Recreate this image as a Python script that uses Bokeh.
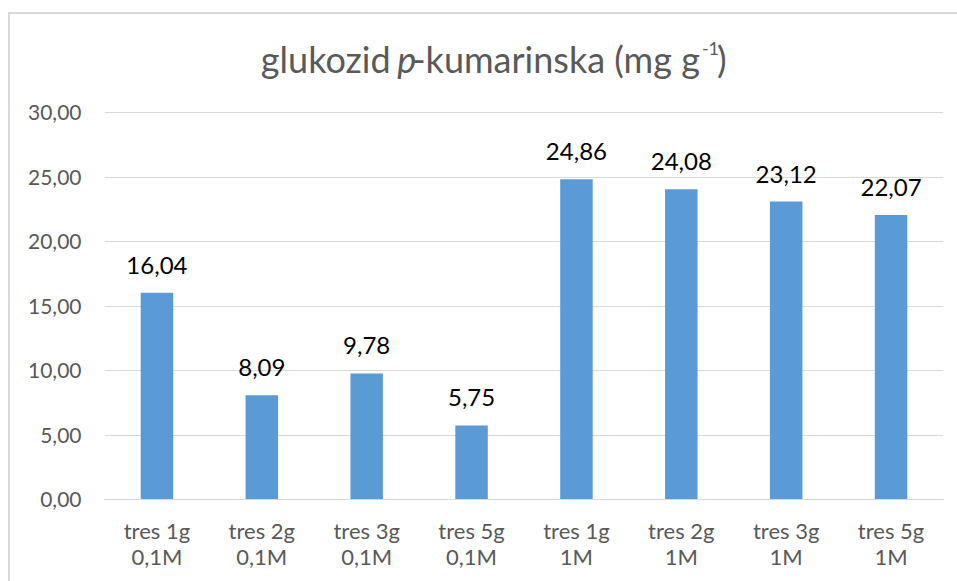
from bokeh.plotting import figure
from bokeh.models import ColumnDataSource, FactorRange, CustomJSTickFormatter, FixedTicker, Range1d
from bokeh.embed import file_html
from bokeh.resources import INLINE
from bokeh.core.properties import value

categories = ["tres 1g\n0,1M", "tres 2g\n0,1M", "tres 3g\n0,1M", "tres 5g\n0,1M",
              "tres 1g\n1M", "tres 2g\n1M", "tres 3g\n1M", "tres 5g\n1M"]
values = [16.04, 8.09, 9.78, 5.75, 24.86, 24.08, 23.12, 22.07]
labels = ["16,04", "8,09", "9,78", "5,75", "24,86", "24,08", "23,12", "22,07"]
y_ticks = [0, 5, 10, 15, 20, 25, 30]
title_parts = ["glukozid ", "p", "-kumarinska (mg g", "-1", ")"]

FONT = "Lato"
GREY = "#595959"

# frame: x 104..941, y 14..497 on page; 0..30 spans 497..112
PX_PER_UNIT = 385 / 30
Y_TOP = (497 - 14) / PX_PER_UNIT

src = ColumnDataSource(dict(x=categories, top=values, lab=labels))

p = figure(x_range=FactorRange(*categories, range_padding=0), y_range=Range1d(0, Y_TOP),
           width=949, height=569, output_backend="svg", toolbar_location=None,
           min_border_left=94, min_border_right=16, min_border_top=0, min_border_bottom=84)
p.styles = {"border-left": "2px solid #d9d9d9", "border-top": "2px solid #d9d9d9",
            "margin-left": "8px", "margin-top": "12px"}
p.outline_line_color = None
p.background_fill_color = "white"

p.vbar(x="x", top="top", width=0.31, source=src, color="#5B9BD5", line_color=None)
p.text(x="x", y="top", text="lab", source=src, text_align="center", text_baseline="bottom",
       y_offset=-19, text_font=value(FONT), text_font_size="24px", text_color="black")

p.xgrid.grid_line_color = None
p.ygrid.grid_line_color = "#d9d9d9"
p.ygrid.grid_line_width = 1

p.yaxis.ticker = FixedTicker(ticks=y_ticks)
p.yaxis.formatter = CustomJSTickFormatter(code="return tick.toFixed(2).replace('.', ',');")
p.yaxis.axis_line_color = None
p.yaxis.major_tick_line_color = None
p.yaxis.minor_tick_line_color = None
p.yaxis.major_label_standoff = 17
p.yaxis.major_label_text_font = FONT
p.yaxis.major_label_text_font_size = "21px"
p.yaxis.major_label_text_color = GREY

p.xaxis.axis_line_color = "#d9d9d9"
p.xaxis.major_tick_line_color = None
p.xaxis.minor_tick_line_color = None
p.xaxis.major_label_standoff = 11
p.xaxis.major_label_text_font = FONT
p.xaxis.major_label_text_font_size = "22px"
p.xaxis.major_label_text_color = GREY
p.xaxis.major_label_text_line_height = 0.98

# title composed of pieces (italic p, superscript -1), placed in page pixels
def px_to_x(px):
    return (px - 104) / 104.625

def py_to_y(py):
    return (497 - py) / PX_PER_UNIT

base = py_to_y(58)
sup = py_to_y(48)
lefts = [260, 396, 411, 700, 715]
ys = [base, base, base, sup, base]
sizes = ["36px", "36px", "36px", "18px", "36px"]
styles = ["normal", "italic", "normal", "normal", "normal"]
for txt, px, yy, sz, st in zip(title_parts, lefts, ys, sizes, styles):
    p.text(x=[px_to_x(px)], y=[yy], text=[txt], text_font=value(FONT), text_font_size=sz,
           text_font_style=st, text_color=GREY, text_align="left", text_baseline="alphabetic")

open("out.html", "w").write(file_html(p, INLINE))
